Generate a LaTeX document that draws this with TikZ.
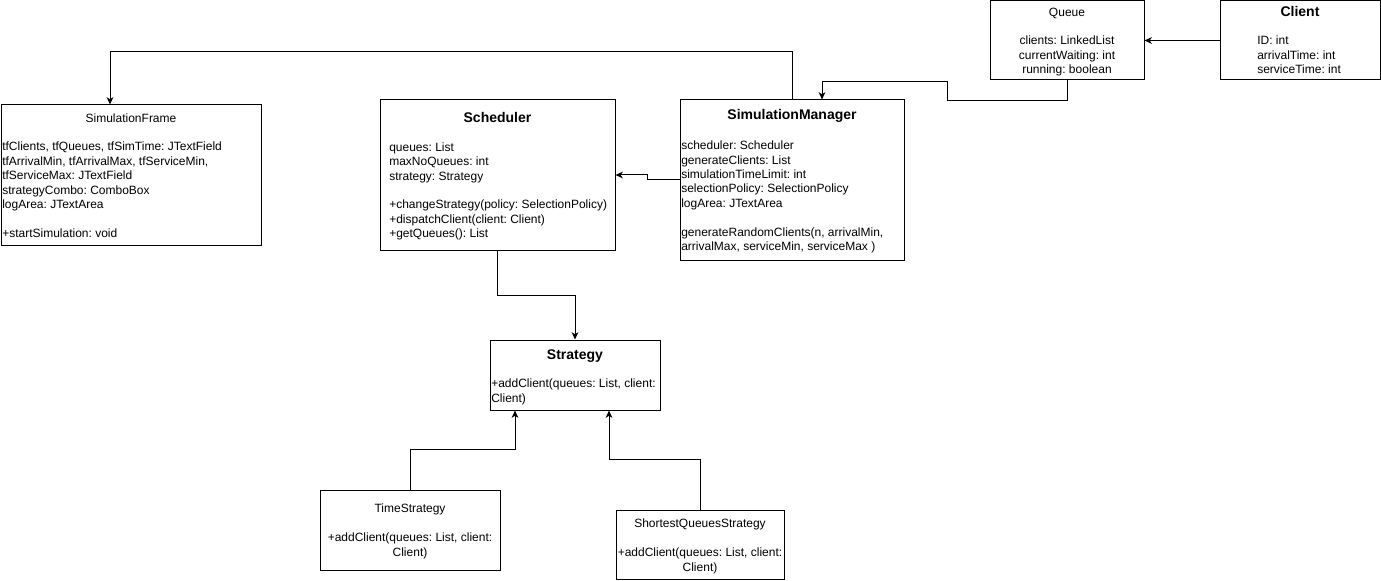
\documentclass[tikz,border=0pt]{standalone}
\usepackage{fontspec}
\setmainfont{Liberation Sans}
\usetikzlibrary{arrows.meta,fit,calc}
\frenchspacing

\begin{document}
\begin{tikzpicture}[x=0.75pt,y=-0.75pt,
  umlbox/.style={draw=black, line width=0.75pt, fill=white, inner sep=0pt, rectangle},
  ctitle/.style={font=\frenchspacing\fontsize{9}{10.8}\selectfont, anchor=base, inner sep=0pt},
  btitle/.style={font=\frenchspacing\bfseries\fontsize{10.5}{12.6}\selectfont, anchor=base, inner sep=0pt},
  lbody/.style={font=\frenchspacing\fontsize{9}{10.8}\selectfont, align=left, anchor=north west, inner sep=0pt},
  cbody/.style={font=\frenchspacing\fontsize{9}{10.8}\selectfont, align=center, anchor=north, inner sep=0pt},
  conn/.style={draw=black, line width=0.75pt, -{Stealth[length=5.5pt,width=5pt,inset=1.6pt]}}
]
\useasboundingbox (0,0) rectangle (1381,581);

% class boxes
\node[umlbox, fit={(1,105)(261,245)}] (frame) {};
\node[umlbox, fit={(380,100)(615,250)}] (sched) {};
\node[umlbox, fit={(680,100)(904,260)}] (sm) {};
\node[umlbox, fit={(990,1)(1144,80)}] (queue) {};
\node[umlbox, fit={(1220,1)(1380,80)}] (client) {};
\node[umlbox, fit={(490,340)(660,410)}] (strat) {};
\node[umlbox, fit={(320,490)(500,570)}] (ts) {};
\node[umlbox, fit={(616,510)(784,579)}] (sqs) {};

% SimulationFrame
\node[ctitle] (frame-t) at (131,122.5) {SimulationFrame};
\node[lbody] (frame-b) at (2,140.5) {\strut tfClients, tfQueues, tfSimTime: JTextField\\
tfArrivalMin, tfArrivalMax, tfServiceMin,\\
tfServiceMax: JTextField\\
strategyCombo: ComboBox\\
logArea: JTextArea\\
\mbox{}\\
+startSimulation: void};

% Scheduler
\node[btitle] (sched-t) at (497.5,123) {Scheduler};
\node[lbody] (sched-b) at (389,141) {\strut queues: List\\
maxNoQueues: int\\
strategy: Strategy\\
\mbox{}\\
+changeStrategy(policy: SelectionPolicy)\\
+dispatchClient(client: Client)\\
+getQueues(): List};

% SimulationManager
\node[btitle] (sm-t) at (792,120) {SimulationManager};
\node[lbody] (sm-b) at (681,139.3) {\strut scheduler: Scheduler\\
generateClients: List\\
simulationTimeLimit: int\\
selectionPolicy: SelectionPolicy\\
logArea: JTextArea\\
\mbox{}\\
generateRandomClients(n, arrivalMin,\\
arrivalMax, serviceMin, serviceMax )};

% Queue
\node[ctitle] (queue-t) at (1067,16.3) {Queue};
\node[cbody] (queue-b) at (1067,34.3) {\strut clients: LinkedList\\
currentWaiting: int\\
running: boolean};

% Client
\node[btitle] (client-t) at (1300,17) {Client};
\node[lbody] (client-b) at (1257,34.3) {\strut ID: int\\
arrivalTime: int\\
serviceTime: int};

% Strategy
\node[btitle] (strat-t) at (575,359) {Strategy};
\node[lbody] (strat-b) at (491,377.3) {\strut +addClient(queues: List, client:\\
Client)};

% TimeStrategy
\node[ctitle] (ts-t) at (410,512.3) {TimeStrategy};
\node[cbody] (ts-b) at (410,531.3) {\strut +addClient(queues: List, client:\\
Client)};

% ShortestQueuesStrategy
\node[ctitle] (sqs-t) at (700,527.3) {ShortestQueuesStrategy};
\node[cbody] (sqs-b) at (700,546.3) {\strut +addClient(queues: List, client:\\
Client)};

% connectors
\draw[conn] (sm.north) -- ++(0,-48) -| ($(frame.north)+(-21,0)$);
\draw[conn] (queue.south) -- ++(0,20) -- ++(-120,0) -- ++(0,-19) -| ($(sm.north)+(30,0)$);
\draw[conn] (sm.west) -- ++(-32,0) |- (sched.east);
\draw[conn] (sched.south) -- ++(0,45) -| (strat.north);
\draw[conn] (ts.north) -- ++(0,-40) -| ($(strat.south)+(-60,0)$);
\draw[conn] (sqs.north) -- ++(0,-50) -| ($(strat.south)+(34,0)$);
\draw[conn] (client.west) -- (queue.east);
\end{tikzpicture}
\end{document}
